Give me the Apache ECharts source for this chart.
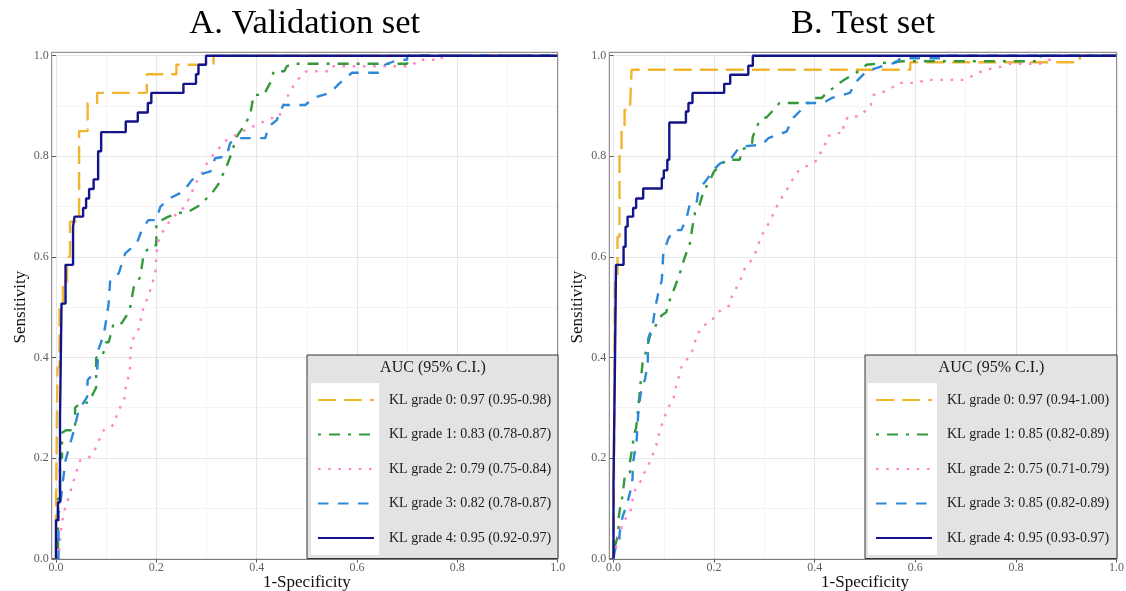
<!DOCTYPE html>
<html>
<head>
<meta charset="utf-8">
<script src="https://cdn.jsdelivr.net/npm/echarts@6/dist/echarts.min.js"></script>
<style>
html,body{margin:0;padding:0;background:#fff;}
#chart{width:1126px;height:591px;}
</style>
</head>
<body>
<div id="chart"></div>
<script>
// ---------- data ----------
const panelTitles = ['A. Validation set', 'B. Test set'];
const grades = ['KL grade 0', 'KL grade 1', 'KL grade 2', 'KL grade 3', 'KL grade 4'];
const valAUC = ['0.97', '0.83', '0.79', '0.82', '0.95'];
const valCI = ['0.95-0.98', '0.78-0.87', '0.75-0.84', '0.78-0.87', '0.92-0.97'];
const testAUC = ['0.97', '0.85', '0.75', '0.85', '0.95'];
const testCI = ['0.94-1.00', '0.82-0.89', '0.71-0.79', '0.82-0.89', '0.93-0.97'];
const tickValues = [0, 0.2, 0.4, 0.6, 0.8, 1.0];

// ROC vertices [1-specificity, sensitivity] - validation set
const valG0 = [[0,0],[0,0.1],[0.003,0.1],[0.003,0.38],[0.007,0.38],[0.007,0.5],[0.014,0.5],[0.014,0.55],[0.022,0.55],[0.022,0.6],[0.028,0.6],[0.028,0.67],[0.046,0.67],[0.046,0.85],[0.063,0.85],[0.063,0.906],[0.082,0.906],[0.082,0.926],[0.181,0.926],[0.181,0.963],[0.24,0.963],[0.24,0.982],[0.314,0.982],[0.314,1],[1,1]];
const valG1 = [[0,0],[0.004,0],[0.004,0.12],[0.008,0.12],[0.008,0.2],[0.012,0.2],[0.012,0.25],[0.02,0.255],[0.038,0.255],[0.038,0.3],[0.05,0.31],[0.065,0.31],[0.075,0.33],[0.08,0.34],[0.08,0.4],[0.092,0.4],[0.1,0.43],[0.105,0.43],[0.115,0.468],[0.131,0.468],[0.145,0.49],[0.148,0.5],[0.155,0.54],[0.168,0.56],[0.175,0.607],[0.191,0.623],[0.2,0.623],[0.2,0.667],[0.224,0.68],[0.244,0.687],[0.265,0.69],[0.287,0.703],[0.311,0.727],[0.324,0.745],[0.34,0.78],[0.35,0.806],[0.36,0.839],[0.374,0.859],[0.387,0.882],[0.394,0.922],[0.414,0.922],[0.427,0.946],[0.434,0.969],[0.455,0.969],[0.46,0.979],[0.473,0.984],[0.7,0.984],[0.7,1],[1,1]];
const valG2 = [[0,0],[0.005,0],[0.009,0.05],[0.015,0.09],[0.025,0.12],[0.032,0.145],[0.04,0.17],[0.048,0.195],[0.065,0.2],[0.075,0.21],[0.082,0.227],[0.088,0.24],[0.095,0.255],[0.108,0.26],[0.118,0.27],[0.121,0.286],[0.128,0.301],[0.136,0.315],[0.138,0.335],[0.141,0.351],[0.147,0.368],[0.148,0.404],[0.151,0.434],[0.161,0.447],[0.167,0.463],[0.17,0.483],[0.175,0.5],[0.185,0.524],[0.198,0.567],[0.2,0.607],[0.204,0.63],[0.211,0.647],[0.221,0.663],[0.234,0.68],[0.251,0.693],[0.268,0.72],[0.277,0.745],[0.287,0.758],[0.297,0.78],[0.311,0.8],[0.324,0.815],[0.337,0.83],[0.354,0.84],[0.367,0.846],[0.384,0.856],[0.4,0.862],[0.42,0.872],[0.43,0.876],[0.445,0.878],[0.45,0.896],[0.457,0.909],[0.463,0.922],[0.47,0.935],[0.479,0.949],[0.488,0.959],[0.499,0.969],[0.545,0.969],[0.55,0.979],[0.705,0.979],[0.712,0.982],[0.722,0.992],[0.768,0.992],[0.77,1],[1,1]];
const valG3 = [[0,0],[0.005,0],[0.005,0.09],[0.008,0.1],[0.012,0.14],[0.019,0.195],[0.028,0.228],[0.036,0.255],[0.045,0.295],[0.062,0.321],[0.063,0.355],[0.082,0.375],[0.085,0.417],[0.095,0.444],[0.1,0.474],[0.105,0.507],[0.108,0.554],[0.125,0.567],[0.138,0.607],[0.161,0.627],[0.171,0.653],[0.184,0.673],[0.2,0.673],[0.208,0.7],[0.228,0.717],[0.254,0.73],[0.271,0.753],[0.294,0.766],[0.308,0.77],[0.317,0.796],[0.34,0.8],[0.347,0.826],[0.36,0.836],[0.417,0.836],[0.424,0.859],[0.44,0.872],[0.453,0.902],[0.497,0.902],[0.513,0.916],[0.546,0.926],[0.566,0.946],[0.59,0.966],[0.643,0.966],[0.656,0.982],[0.682,0.992],[0.7,0.992],[0.7,1],[1,1]];
const valG4 = [[0,0],[0,0.076],[0.004,0.076],[0.004,0.112],[0.008,0.112],[0.008,0.28],[0.011,0.28],[0.011,0.507],[0.019,0.507],[0.019,0.584],[0.034,0.584],[0.034,0.66],[0.037,0.66],[0.037,0.68],[0.054,0.68],[0.054,0.697],[0.06,0.697],[0.06,0.716],[0.066,0.716],[0.066,0.735],[0.075,0.735],[0.075,0.754],[0.084,0.754],[0.084,0.81],[0.09,0.81],[0.09,0.848],[0.139,0.848],[0.139,0.869],[0.163,0.869],[0.163,0.887],[0.183,0.887],[0.183,0.906],[0.19,0.906],[0.19,0.926],[0.254,0.926],[0.254,0.944],[0.279,0.944],[0.279,0.963],[0.284,0.963],[0.284,0.982],[0.299,0.982],[0.299,1],[1,1]];

// ROC vertices [1-specificity, sensitivity] - test set
const testG0 = [[0,0],[0.003,0],[0.003,0.55],[0.008,0.55],[0.008,0.64],[0.012,0.64],[0.012,0.81],[0.016,0.81],[0.016,0.86],[0.022,0.86],[0.022,0.892],[0.033,0.892],[0.033,0.9],[0.036,0.9],[0.036,0.972],[0.59,0.972],[0.59,0.987],[0.927,0.987],[0.927,1],[1,1]];
const testG1 = [[0,0],[0.003,0.025],[0.01,0.05],[0.01,0.08],[0.013,0.1],[0.018,0.125],[0.023,0.169],[0.033,0.172],[0.033,0.195],[0.038,0.222],[0.04,0.244],[0.045,0.26],[0.048,0.288],[0.051,0.318],[0.053,0.341],[0.056,0.371],[0.058,0.39],[0.063,0.406],[0.068,0.425],[0.073,0.444],[0.079,0.454],[0.086,0.467],[0.096,0.484],[0.105,0.49],[0.109,0.507],[0.112,0.514],[0.122,0.54],[0.132,0.567],[0.142,0.6],[0.152,0.627],[0.157,0.66],[0.162,0.687],[0.171,0.703],[0.179,0.73],[0.192,0.753],[0.2,0.77],[0.218,0.787],[0.225,0.793],[0.251,0.793],[0.255,0.813],[0.275,0.823],[0.277,0.839],[0.285,0.859],[0.291,0.872],[0.305,0.878],[0.318,0.892],[0.33,0.906],[0.39,0.906],[0.397,0.916],[0.414,0.916],[0.424,0.926],[0.437,0.936],[0.454,0.949],[0.47,0.959],[0.487,0.969],[0.503,0.982],[0.55,0.987],[0.576,0.989],[0.848,0.989],[0.85,1],[1,1]];
const testG2 = [[0,0],[0.003,0],[0.006,0.025],[0.012,0.05],[0.021,0.076],[0.033,0.09],[0.036,0.11],[0.045,0.143],[0.056,0.156],[0.06,0.169],[0.067,0.179],[0.079,0.209],[0.085,0.225],[0.092,0.255],[0.102,0.282],[0.109,0.301],[0.119,0.315],[0.121,0.331],[0.129,0.358],[0.134,0.378],[0.14,0.391],[0.152,0.401],[0.157,0.414],[0.162,0.431],[0.166,0.448],[0.179,0.457],[0.185,0.47],[0.198,0.477],[0.208,0.49],[0.218,0.497],[0.232,0.504],[0.235,0.52],[0.245,0.54],[0.255,0.56],[0.262,0.58],[0.275,0.594],[0.285,0.614],[0.291,0.634],[0.3,0.653],[0.311,0.67],[0.321,0.693],[0.331,0.713],[0.343,0.73],[0.351,0.746],[0.36,0.76],[0.367,0.77],[0.38,0.778],[0.394,0.786],[0.407,0.793],[0.411,0.806],[0.42,0.82],[0.424,0.839],[0.44,0.846],[0.457,0.846],[0.457,0.866],[0.467,0.879],[0.487,0.879],[0.499,0.889],[0.51,0.896],[0.517,0.922],[0.54,0.929],[0.553,0.936],[0.566,0.946],[0.606,0.946],[0.619,0.952],[0.699,0.952],[0.712,0.959],[0.725,0.966],[0.739,0.972],[0.755,0.975],[0.775,0.979],[0.788,0.984],[0.848,0.984],[0.861,0.992],[0.87,0.992],[0.87,1],[1,1]];
const testG3 = [[0,0],[0.003,0.017],[0.012,0.037],[0.012,0.05],[0.018,0.083],[0.026,0.106],[0.03,0.12],[0.034,0.136],[0.038,0.16],[0.038,0.185],[0.046,0.235],[0.049,0.285],[0.054,0.328],[0.063,0.358],[0.068,0.388],[0.069,0.437],[0.078,0.464],[0.083,0.5],[0.089,0.527],[0.096,0.554],[0.099,0.607],[0.109,0.636],[0.119,0.653],[0.135,0.653],[0.146,0.68],[0.152,0.706],[0.165,0.706],[0.169,0.733],[0.185,0.753],[0.198,0.772],[0.212,0.786],[0.232,0.793],[0.251,0.819],[0.295,0.823],[0.308,0.836],[0.344,0.849],[0.357,0.876],[0.377,0.896],[0.381,0.906],[0.417,0.906],[0.434,0.916],[0.47,0.926],[0.483,0.949],[0.503,0.969],[0.536,0.98],[0.563,0.987],[0.57,0.995],[0.66,0.995],[0.66,1],[1,1]];
const testG4 = [[0,0],[0,0.15],[0.003,0.15],[0.003,0.398],[0.005,0.398],[0.005,0.584],[0.02,0.584],[0.02,0.62],[0.024,0.62],[0.024,0.66],[0.028,0.66],[0.028,0.68],[0.039,0.68],[0.039,0.697],[0.045,0.697],[0.045,0.716],[0.059,0.716],[0.059,0.736],[0.096,0.736],[0.096,0.756],[0.1,0.756],[0.1,0.772],[0.107,0.772],[0.107,0.793],[0.111,0.793],[0.111,0.867],[0.144,0.867],[0.144,0.889],[0.149,0.889],[0.149,0.906],[0.157,0.906],[0.157,0.926],[0.22,0.926],[0.22,0.944],[0.232,0.944],[0.232,0.962],[0.268,0.962],[0.268,0.98],[0.277,0.98],[0.277,1],[1,1]];

const valCurves = [valG0, valG1, valG2, valG3, valG4];
const testCurves = [testG0, testG1, testG2, testG3, testG4];

// ---------- styles ----------
const SERIF = '"Liberation Serif", "DejaVu Serif", serif';
const colors = ['#F2B530', '#33993A', '#FF84CA', '#2E88DA', '#13138C'];
const dashes = [[18, 8], [3, 8, 11, 8], [2.6, 7.6], [10.5, 9.5], 'solid'];
const LW = 2.4;

const panels = [
  {left: 56, width: 501.7, border: [51.7, 557.7], legendBox: [307, 558], keyBox: [311, 379], iconLeft: 317},
  {left: 613.5, width: 503, border: [609.3, 1116.7], legendBox: [865, 1117], keyBox: [868, 937], iconLeft: 875}
];
const TOP = 55.7, HEIGHT = 502.8, BORDER_TOP = 52.3, BORDER_BOTTOM = 559.5;

const sets = [
  {curves: valCurves, auc: valAUC, ci: valCI},
  {curves: testCurves, auc: testAUC, ci: testCI}
];

const grid = [], xAxis = [], yAxis = [], series = [], legend = [], title = [], graphics = [];

panels.forEach((p, pi) => {
  grid.push({left: p.left, top: TOP, width: p.width, height: HEIGHT, containLabel: false, outerBoundsMode: 'none'});
  const common = {
    type: 'value', min: 0, max: 1, interval: 0.2,
    gridIndex: pi,
    axisLine: {show: false},
    axisTick: {show: true, length: 4, lineStyle: {color: '#555', width: 1}},
    axisLabel: {fontFamily: SERIF, fontSize: 12, color: '#5e5e5e', hideOverlap: false, formatter: v => tickValues.includes(+v.toFixed(1)) ? v.toFixed(1) : ''},
    splitLine: {show: true, lineStyle: {color: '#e6e6e6', width: 1.1}},
    minorTick: {show: false, splitNumber: 2},
    minorSplitLine: {show: true, lineStyle: {color: '#f1f1f1', width: 0.8}},
    nameLocation: 'middle',
    nameMoveOverlap: false,
    nameTextStyle: {fontFamily: SERIF, fontSize: 17, color: '#111'}
  };
  xAxis.push(Object.assign({}, common, {
    name: '1-Specificity', nameGap: 15, offset: 1,
    axisLabel: Object.assign({}, common.axisLabel, {margin: 2})
  }));
  yAxis.push(Object.assign({}, common, {
    name: 'Sensitivity', nameGap: 23, offset: p.left - p.border[0],
    axisLabel: Object.assign({}, common.axisLabel, {margin: 3})
  }));

  title.push({
    text: panelTitles[pi],
    left: (p.border[0] + p.border[1]) / 2 - 5, top: 1, textAlign: 'center',
    textStyle: {fontFamily: SERIF, fontSize: 34.5, fontWeight: 'normal', color: '#000'}
  });

  const set = sets[pi];
  const names = grades.map((g, i) => g + ': ' + set.auc[i] + ' (' + set.ci[i] + ')');
  set.curves.forEach((curve, i) => {
    series.push({
      name: names[i], type: 'line', xAxisIndex: pi, yAxisIndex: pi,
      data: curve, symbol: 'none', showSymbol: false, clip: false,
      animation: false, z: 2 + i * 0.01,
      lineStyle: {color: colors[i], width: LW, type: dashes[i], cap: 'butt'},
      itemStyle: {color: colors[i]},
      emphasis: {disabled: true}
    });
  });

  legend.push({
    data: names, orient: 'vertical', left: p.iconLeft, top: 392, padding: 0,
    itemWidth: 56, itemHeight: 16, itemGap: 18.5, selectedMode: false, z: 20,
    itemStyle: {opacity: 0},
    textStyle: {fontFamily: SERIF, fontSize: 14, color: '#1a1a1a', lineHeight: 16, padding: [0, 0, 0, 10]}
  });

  // panel border
  graphics.push({
    type: 'rect', z: 3, silent: true,
    shape: {x: p.border[0], y: BORDER_TOP, width: p.border[1] - p.border[0], height: BORDER_BOTTOM - BORDER_TOP},
    style: {fill: null, stroke: '#7a7a7a', lineWidth: 1}
  });
  // legend box
  graphics.push({
    type: 'rect', z: 10, silent: true,
    shape: {x: p.legendBox[0], y: 355, width: p.legendBox[1] - p.legendBox[0], height: 203.5},
    style: {fill: '#e3e3e3', stroke: '#333', lineWidth: 1}
  });
  graphics.push({
    type: 'rect', z: 11, silent: true,
    shape: {x: p.keyBox[0], y: 383, width: p.keyBox[1] - p.keyBox[0], height: 172},
    style: {fill: '#ffffff'}
  });
  graphics.push({
    type: 'text', z: 11, silent: true,
    x: (p.legendBox[0] + p.legendBox[1]) / 2 + 0.5, y: 368,
    style: {text: 'AUC (95% C.I.)', fontFamily: SERIF, fontSize: 16, fill: '#1a1a1a', align: 'center', verticalAlign: 'middle'}
  });
});

const chart = echarts.init(document.getElementById('chart'), null, {renderer: 'canvas'});
chart.setOption({
  backgroundColor: '#ffffff',
  animation: false,
  title, grid, xAxis, yAxis, series, legend,
  graphic: graphics
});
</script>
</body>
</html>
